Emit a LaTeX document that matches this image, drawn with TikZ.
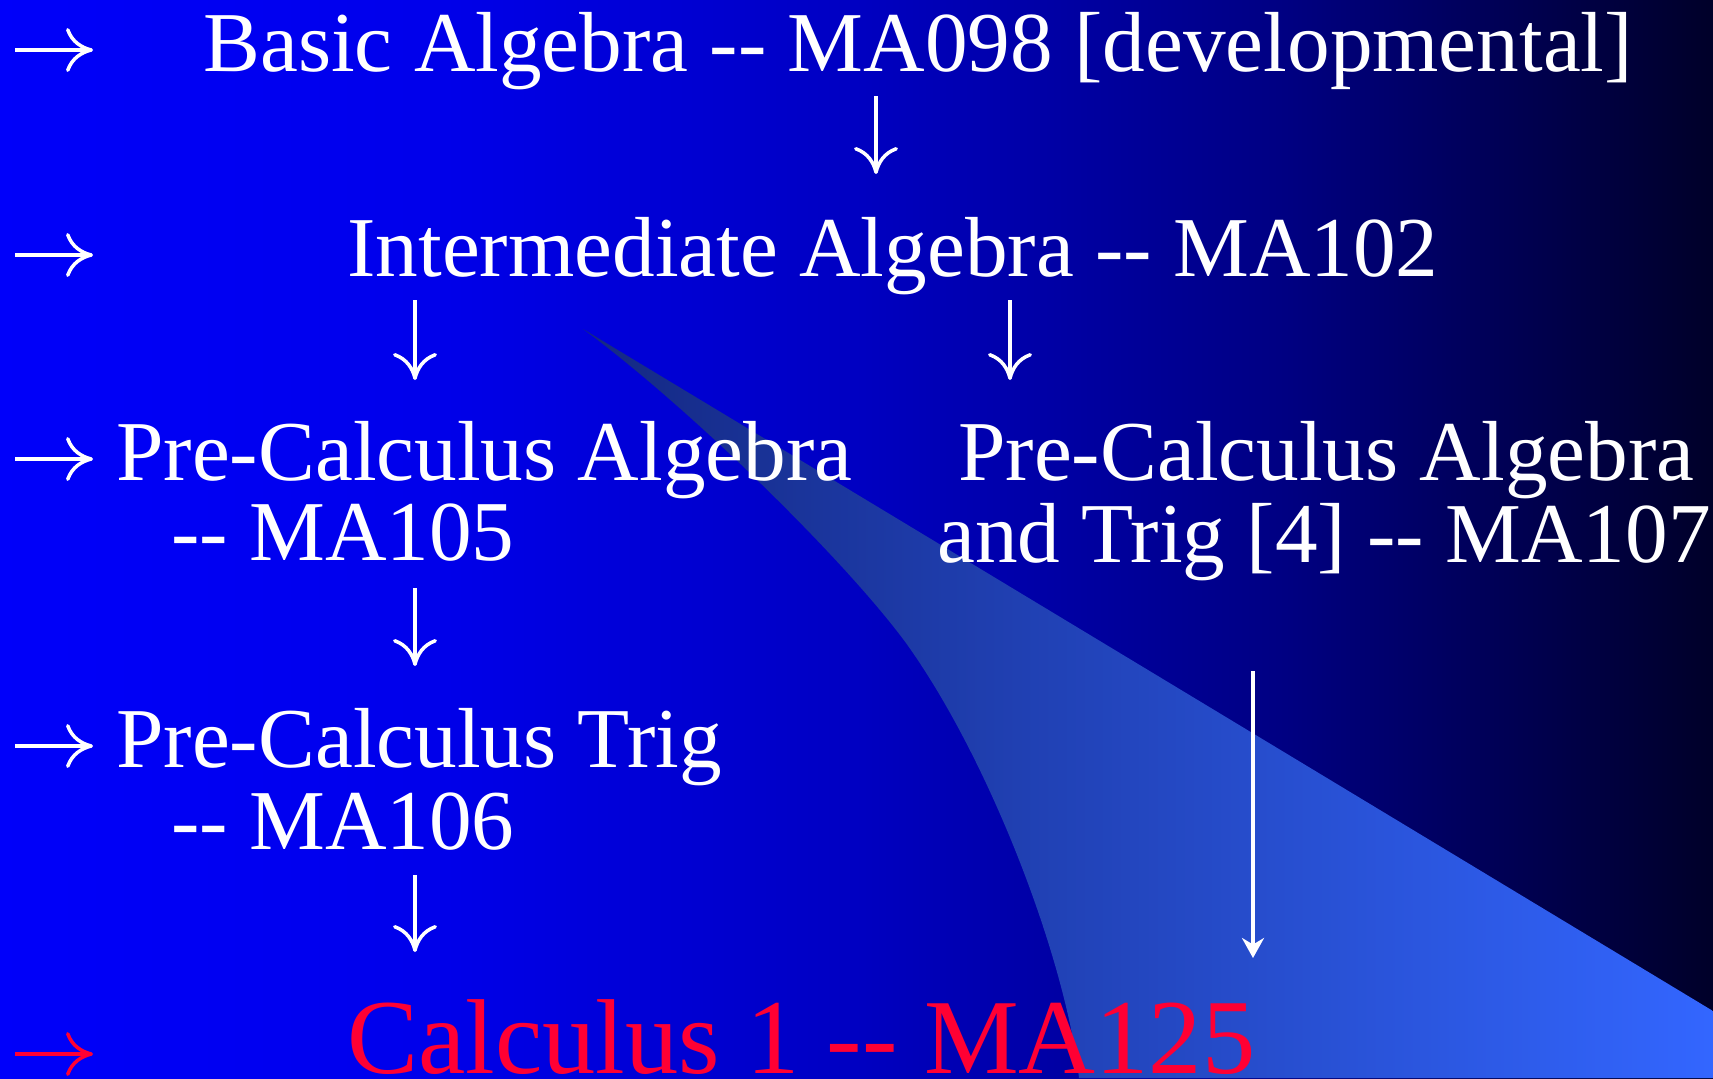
\documentclass[tikz,border=0pt]{standalone}
\usepackage{fontspec}
\setmainfont{Liberation Serif}
\usetikzlibrary{arrows.meta}
\definecolor{wedgedark}{HTML}{142882}
\definecolor{wedgelight}{HTML}{3366FF}
\definecolor{calcred}{HTML}{FF0033}
\pgfdeclarehorizontalshading{slidebg}{100bp}{rgb(0bp)=(0,0,0.98); rgb(25bp)=(0,0,0.98); rgb(37.5bp)=(0,0,0.92); rgb(50bp)=(0,0,0.76); rgb(62.5bp)=(0,0,0.51); rgb(75bp)=(0,0,0.16); rgb(100bp)=(0,0,0.16)}
\newcommand{\dd}{-\kern0pt-}
\newcommand{\coursefont}{\fontsize{48.5}{58}\selectfont}
\newcommand{\calcfont}{\fontsize{60.6}{70}\selectfont}

\begin{document}
\begin{tikzpicture}[x=0.2mm, y=-0.2mm,
  course/.style={anchor=base west, inner sep=0pt, text=white, font=\coursefont},
  glypharr/.style={white, line width=2pt, -{Computer Modern Rightarrow[length=5.4mm, width=8.8mm]}},
  longarr/.style={white, line width=2.8pt, -{Stealth[length=4mm, width=4.4mm, inset=1.3mm]}}]
  \useasboundingbox (0,0) rectangle (1713,1078);
  % background
  \shade[shading=slidebg] (0,0) rectangle (1713,1078);
  % light wedge
  \shade[left color=wedgedark, right color=wedgelight]
    (583,329) -- (1713,1011) -- (1713,1078) -- (1079,1078)
    .. controls (1066,960) and (990,760) .. (906,643)
    .. controls (845,560) and (690,408) .. cycle;

  % courses
  \node[course] (ma098) at (203,71) {Basic Algebra \dd{} MA098 [developmental]};
  \node[course] (ma102) at (347,276) {Intermediate Algebra \dd{} MA102};
  \node[course] (ma105a) at (116,480) {Pre-Calculus Algebra};
  \node[course] (ma105b) at (171,560) {\dd{} MA105};
  \node[course] (ma107a) at (958,480) {Pre-Calculus Algebra};
  \node[course] (ma107b) at (937,562) {and Trig [4] \dd{} MA107};
  \node[course] (ma106a) at (116,767) {Pre-Calculus Trig};
  \node[course] (ma106b) at (171,849) {\dd{} MA106};
  \node[course, text=calcred, font=\calcfont] (ma125) at (347,1073) {Calculus 1 \dd{} MA125};

  % bullets
  \foreach \y in {50,255,459,746}{
    \draw[glypharr] (15,\y) -- +(78,0);
  }
  \draw[glypharr, calcred] (15,1054) -- +(78,0);

  % arrows between courses
  \coordinate (s1) at (876,96);   \coordinate (e1) at (876,174);
  \coordinate (s2) at (415,300);  \coordinate (e2) at (415,380);
  \coordinate (s3) at (1010,300); \coordinate (e3) at (1010,380);
  \coordinate (s4) at (415,588);  \coordinate (e4) at (415,666);
  \coordinate (s5) at (415,875);  \coordinate (e5) at (415,952);
  \foreach \i in {1,...,5}{
    \draw[glypharr] (s\i) -- (e\i);
  }
  \coordinate (s6) at (1253,671); \coordinate (e6) at (1253,958);
  \draw[longarr] (s6) -- (e6);
\end{tikzpicture}
\end{document}
